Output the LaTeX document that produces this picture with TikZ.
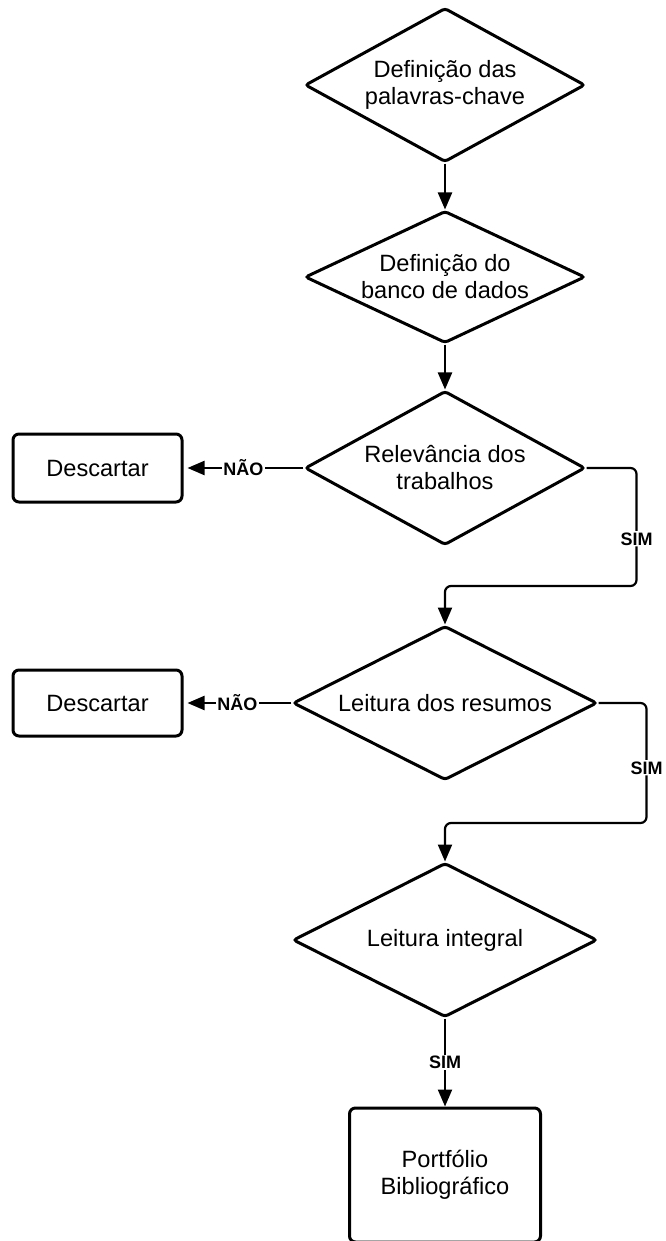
\documentclass[tikz,border=0pt]{standalone}
\usepackage{fontspec}
\setmainfont{Liberation Sans}
\usetikzlibrary{shapes.geometric,positioning,arrows.meta}

\begin{document}
\begin{tikzpicture}[node distance={96pt}, thick,
		main/.style={draw, diamond, aspect=1.82, line width=1.5pt, rounded corners=1.5pt, inner sep=0pt, minimum width=140pt, minimum height=77pt, align=center, font=\fontsize{11.8}{13.5}\selectfont},
		box/.style={draw, rectangle, line width=1.5pt, rounded corners=3pt, align=center, font=\fontsize{11.8}{13.5}\selectfont},
		line/.style={line width=1.1pt, -{Triangle[length=8.5pt,width=7pt]}},
		lbl/.style={fill=white, inner sep=0.6pt, font=\fontsize{9}{10}\selectfont\bfseries}]
		\useasboundingbox (0,0) rectangle (332.5pt,-620.5pt);

		\node[main] (1) at (222.5pt,-42.5pt) {Definição das\\palavras-chave};
		\node[main, aspect=2.1, minimum height=66pt] (2) [below of=1] {Definição do\\banco de dados};
		\node[main] (3) [below of=2, node distance=95.5pt] {Relevância dos\\trabalhos};
		\node[main, minimum width=152pt] (4) [below of=3, node distance=117.5pt] {Leitura dos resumos};
		\node[main, minimum width=152pt] (5) [below of=4, node distance=118.5pt] {Leitura integral};
		\node[box, minimum width=95.5pt, minimum height=67pt] (6) [below of=5, node distance=117.5pt] {Portfólio\\Bibliográfico};
		\node[box, minimum width=84.5pt, minimum height=34pt] (7) [left of=3, node distance=173.75pt] {Descartar};
		\node[box, minimum width=84.5pt, minimum height=33pt] (8) [left of=4, node distance=173.75pt] {Descartar};

		\coordinate[below right=59pt and 25pt of 3.east] (k1);
		\coordinate[below right=60pt and 24pt of 4.east] (k2);

		\draw[line] (1) to (2);
		\draw[line] (2) to (3);
		\draw[line, shorten >=2pt] (3) to node[lbl] {NÃO} (7);
		\draw[line, rounded corners=3pt] (3.east) -| node[lbl, pos=0.8] {SIM} (k1) -| (4.north);
		\draw[line, shorten >=2pt] (4) to node[lbl] {NÃO} (8);
		\draw[line, rounded corners=3pt] (4.east) -| node[lbl, pos=0.77] {SIM} (k2) -| (5.north);
		\draw[line] (5) to node[lbl] {SIM} (6);
	\end{tikzpicture}
\end{document}
